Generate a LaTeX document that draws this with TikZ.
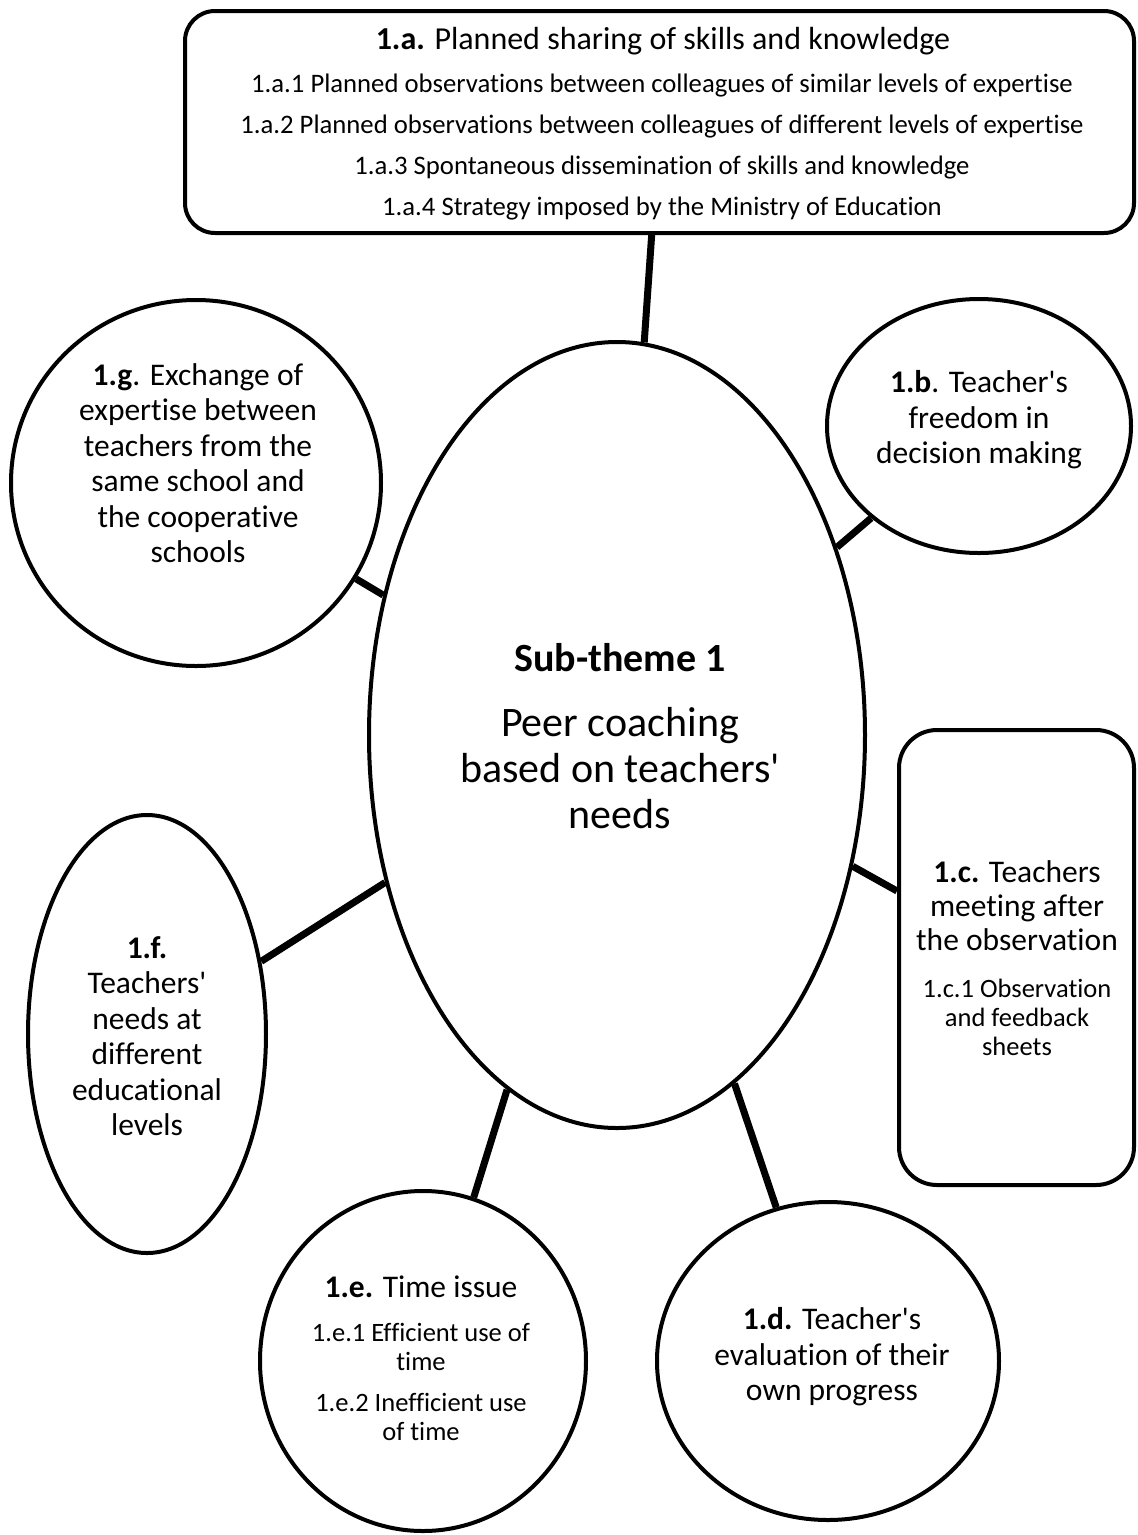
\documentclass[tikz,border=0pt]{standalone}
\usepackage{fontspec}
\setmainfont{Carlito}[Ligatures={TeXOff,NoCommon}]
\usetikzlibrary{shapes.geometric}
\begin{document}
\begin{tikzpicture}[x=1pt,y=-1pt,
  outline/.style={draw=black, line width=4pt, fill=white},
  oval/.style={outline, ellipse, inner sep=0pt},
  panel/.style={outline, rectangle, inner sep=0pt},
  link/.style={line width=7pt},
  big/.style={font=\fontsize{31.5}{35.5}\selectfont, align=center, inner sep=0pt},
  small/.style={font=\fontsize{26.5}{29}\selectfont, align=center, inner sep=0pt},
]
\useasboundingbox (0,0) rectangle (1138,1535);

% shapes
\node[panel, rounded corners=30pt, minimum width=949pt, minimum height=222pt] (a) at (659.5,122) {};
\node[oval, minimum width=496pt, minimum height=786pt] (c0) at (617,735) {};
\node[oval, minimum width=304pt, minimum height=254pt] (b) at (979,426) {};
\node[panel, rounded corners=38pt, minimum width=235pt, minimum height=455pt] (c) at (1016.5,957.5) {};
\node[oval, minimum width=342pt, minimum height=318pt] (d) at (828,1361) {};
\node[oval, minimum width=326pt, minimum height=340pt] (e) at (423,1361) {};
\node[oval, minimum width=238pt, minimum height=438pt] (f) at (147,1034) {};
\node[oval, minimum width=370pt, minimum height=366pt] (g) at (196,483) {};

% connectors
\draw[link] (a) -- (c0);
\draw[link] (b) -- (c0);
\draw[link] (c) -- (c0);
\draw[link] (d) -- (c0);
\draw[link] (e) -- (c0);
\draw[link] (f) -- (c0);
\draw[link] (g) -- (c0);

% texts
\node[font=\fontsize{32}{36}\selectfont, inner sep=0pt] (atitle) at (663,41)
  {\textbf{1.a.} Planned sharing of skills and knowledge};
\node[font=\fontsize{26.7}{41}\selectfont, align=center, inner sep=0pt] (aitems) at (662,147)
  {1.a.1 Planned observations between colleagues of similar levels of expertise\\
   1.a.2 Planned observations between colleagues of different levels of expertise\\
   1.a.3 Spontaneous dissemination of skills and knowledge\\
   1.a.4 Strategy imposed by the Ministry of Education};

\node[font=\bfseries\fontsize{40}{46}\selectfont, inner sep=0pt] (ctitle) at (620,658) {Sub-theme 1};
\node[font=\fontsize{42}{46}\selectfont, align=center, inner sep=0pt] (cmain) at (620,768)
  {Peer coaching\\based on teachers'\\needs};

\node[big] (btext) at (979,420) {\textbf{1.b}. Teacher's\\freedom in\\decision making};

\node[big, font=\fontsize{31.5}{34}\selectfont] (ctext) at (1017,906) {\textbf{1.c.} Teachers\\meeting after\\the observation};
\node[small] (csub) at (1017,1017) {1.c.1 Observation\\and feedback\\sheets};

\node[big] (dtext) at (832,1357) {\textbf{1.d.} Teacher's\\evaluation of their\\own progress};

\node[big] (etitle) at (421,1287) {\textbf{1.e.} Time issue};
\node[small] (esub1) at (421,1346.5) {1.e.1 Efficient use of\\time};
\node[small] (esub2) at (421,1417) {1.e.2 Inefficient use\\of time};

\node[big] (ftext) at (147,1036) {\textbf{1.f.}\\Teachers'\\needs at\\different\\educational\\levels};

\node[big] (gtext) at (198,463) {\textbf{1.g}. Exchange of\\expertise between\\teachers from the\\same school and\\the cooperative\\schools};
\end{tikzpicture}
\end{document}
